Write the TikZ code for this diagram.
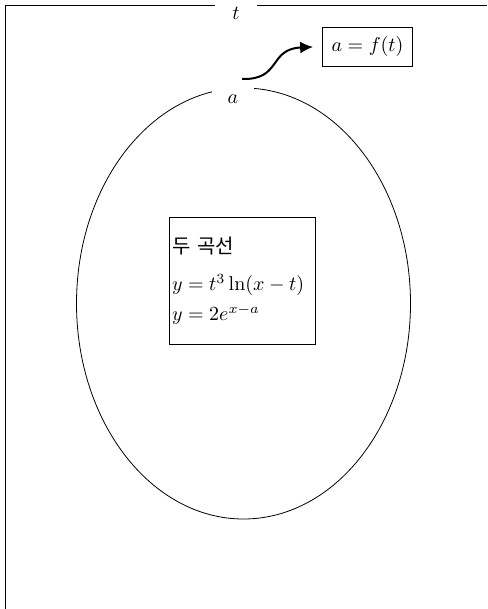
\documentclass[tikz,border=0pt]{standalone}
\usepackage{fontspec}
\newfontfamily\krfont{Noto Sans CJK KR}
\usetikzlibrary{arrows.meta,shapes.geometric}
\begin{document}
\begin{tikzpicture}[x=0.5pt,y=-0.5pt,
  gaplabel/.style={fill=white,inner sep=0pt,minimum width=21pt,minimum height=14pt},
  boxed/.style={draw,line width=0.4pt}]
\useasboundingbox (0,0) rectangle (487,609);
% frame
\coordinate (fb) at (5,609);
\coordinate (fc) at (5,5);
\coordinate (fr) at (487,5);
\draw (fb) -- (fc) -- (fr);
% ellipse
\node[ellipse,draw,inner sep=0pt,minimum width=167pt,minimum height=215.5pt] (ell) at (243.5,303.5) {};
% labels with gaps
\node[gaplabel] (tl) at (236,13) {$t$};
\node[gaplabel] (al) at (233,99) {$a$};
% inner box
\node[boxed,align=left,text width=70pt,inner xsep=1.5pt,inner ysep=10pt] (curves) at (242,281)
  {{\krfont 두 곡선}\\[6.5pt]$y=t^3\ln(x-t)$\\[3pt]$y=2e^{x-a}$};
% function box
\node[boxed,inner xsep=4.5pt,inner ysep=4.75pt] (fbox) at (367.5,46.5) {$a=f(t)$};
% arrow
\coordinate (s) at (242,79);
\draw[line width=1pt,-{Latex[length=6.5pt,width=6pt]},shorten >=4.5pt] (s) .. controls (282,80) and (268,49) .. (fbox.west);
\end{tikzpicture}
\end{document}
